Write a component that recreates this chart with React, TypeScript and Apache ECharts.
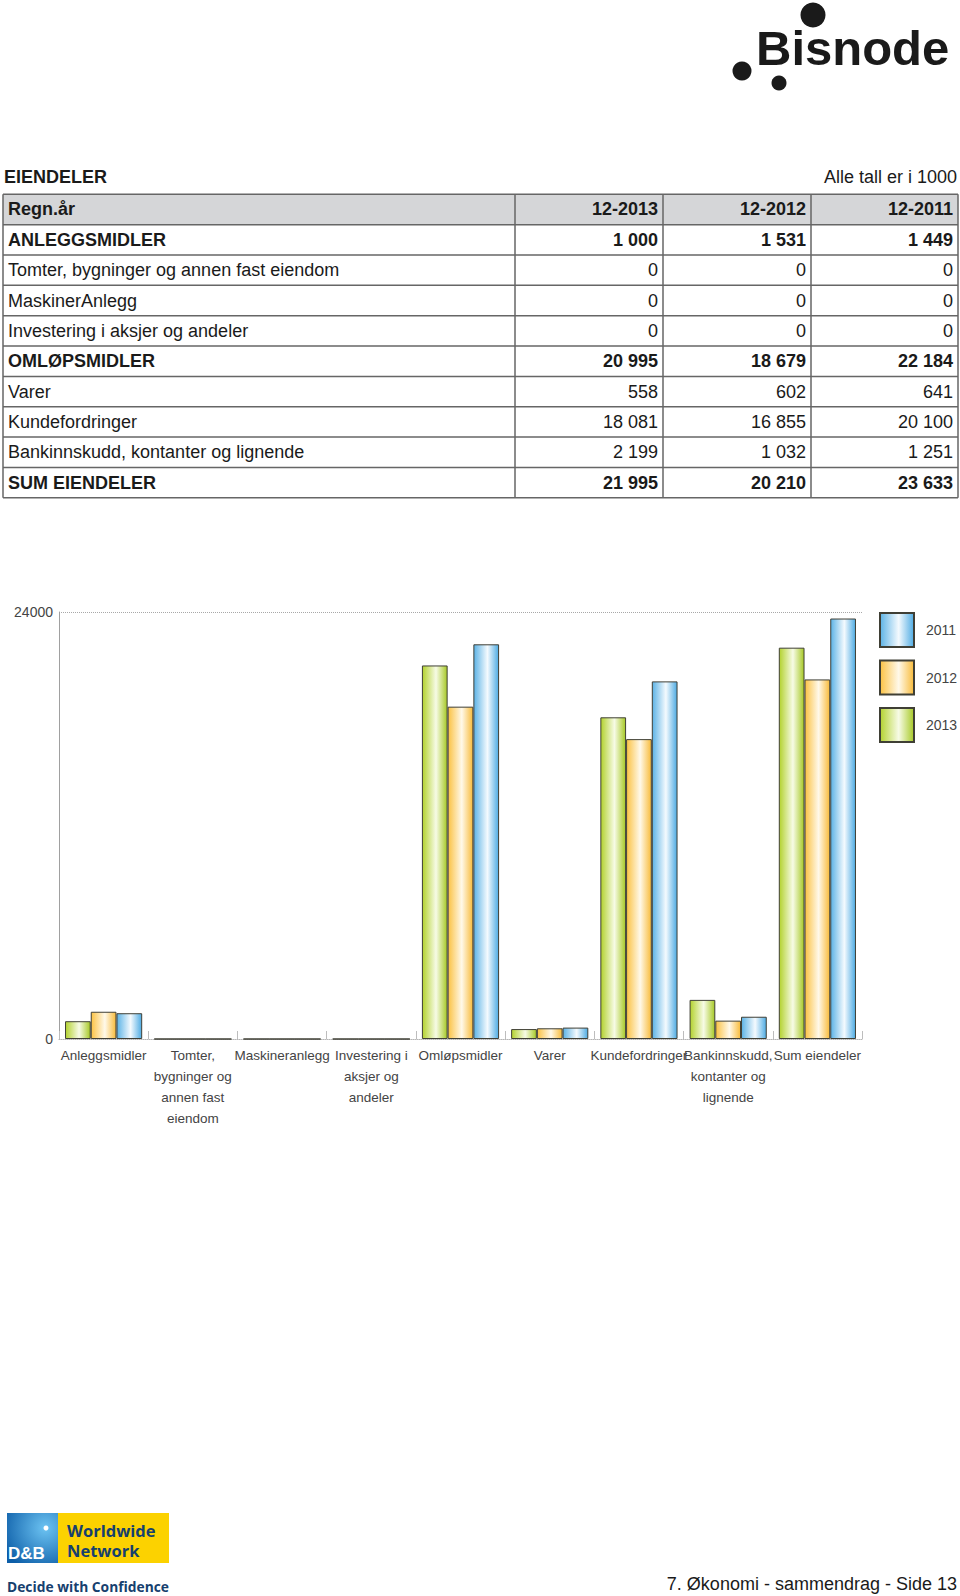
import React, { useEffect, useRef } from 'react';
import * as echarts from 'echarts';

// ---------- data ----------
const categories = [
  'Anleggsmidler',
  'Tomter, bygninger og annen fast eiendom',
  'Maskineranlegg',
  'Investering i aksjer og andeler',
  'Omløpsmidler',
  'Varer',
  'Kundefordringer',
  'Bankinnskudd, kontanter og lignende',
  'Sum eiendeler',
];
const tickLabels = [
  'Anleggsmidler',
  'Tomter,\nbygninger og\nannen fast\neiendom',
  'Maskineranlegg',
  'Investering i\naksjer og\nandeler',
  'Omløpsmidler',
  'Varer',
  'Kundefordringer',
  'Bankinnskudd,\nkontanter og\nlignende',
  'Sum eiendeler',
];
const values2013 = [1000, 0, 0, 0, 20995, 558, 18081, 2199, 21995];
const values2012 = [1531, 0, 0, 0, 18679, 602, 16855, 1032, 20210];
const values2011 = [1449, 0, 0, 0, 22184, 641, 20100, 1251, 23633];
const seriesNames = ['2013', '2012', '2011'];
const legendOrder = ['2011', '2012', '2013'];
const yMax = 24000;

const tableTitle = 'EIENDELER';
const tableNote = 'Alle tall er i 1000';
const tableHeader = ['Regn.år', '12-2013', '12-2012', '12-2011'];
const tableLabels = [
  'ANLEGGSMIDLER',
  'Tomter, bygninger og annen fast eiendom',
  'MaskinerAnlegg',
  'Investering i aksjer og andeler',
  'OMLØPSMIDLER',
  'Varer',
  'Kundefordringer',
  'Bankinnskudd, kontanter og lignende',
  'SUM EIENDELER',
];
const tableBold = [true, false, false, false, true, false, false, false, true];
const footerText = '7. Økonomi - sammendrag - Side 13';

// ---------- helpers ----------
const FONT = "'Liberation Sans', Arial, Helvetica, sans-serif";
const fmt = (n: number) => String(n).replace(/\B(?=(\d{3})+(?!\d))/g, ' ');

const grad = (edgeL: string, mid: string, edgeR: string) => ({
  type: 'linear',
  x: 0,
  y: 0,
  x2: 1,
  y2: 0,
  colorStops: [
    { offset: 0, color: edgeL },
    { offset: 0.55, color: mid },
    { offset: 1, color: edgeR },
  ],
});

const seriesColors: Record<string, any> = {
  '2013': grad('#b3d22e', '#f7fbe6', '#a7c926'),
  '2012': grad('#fbc243', '#fff9ea', '#f8bb3a'),
  '2011': grad('#5cb3e6', '#f4fafe', '#4eabe3'),
};
const seriesData: Record<string, number[]> = {
  '2013': values2013,
  '2012': values2012,
  '2011': values2011,
};

function txt(x: number, y: number, text: string, size: number, opts: any = {}) {
  const weight = opts.bold ? 'bold ' : '';
  return {
    type: 'text',
    x,
    y,
    silent: true,
    style: {
      text,
      font: `${weight}${size}px ${opts.family || FONT}`,
      fill: opts.fill || '#1a1a1a',
      align: opts.align || 'left',
      verticalAlign: opts.vAlign || 'middle',
    },
  };
}

function buildGraphics() {
  const g: any[] = [];
  // Bisnode logo
  g.push({ type: 'circle', shape: { cx: 813, cy: 15, r: 12.5 }, style: { fill: '#1a1a1a' } });
  g.push({ type: 'circle', shape: { cx: 742, cy: 71, r: 9.5 }, style: { fill: '#1a1a1a' } });
  g.push({ type: 'circle', shape: { cx: 779, cy: 83, r: 7.5 }, style: { fill: '#1a1a1a' } });
  g.push(txt(756, 48, 'Bisnode', 49, { bold: true, vAlign: 'middle', fill: '#1a1a1a' }));

  // Table title + note
  g.push(txt(4, 177, tableTitle, 18, { bold: true }));
  g.push(txt(957, 177, tableNote, 18, { align: 'right' }));

  // Table geometry
  const cols = [3, 515, 663, 811, 958];
  const y0 = 194.3;
  const rh = 30.35;
  const nRows = tableLabels.length + 1;
  // header fill
  g.push({ type: 'rect', shape: { x: cols[0], y: y0, width: cols[4] - cols[0], height: rh }, style: { fill: '#d5d6d8' } });
  // horizontal lines
  for (let i = 0; i <= nRows; i++) {
    const y = y0 + i * rh;
    g.push({ type: 'line', shape: { x1: cols[0], y1: y, x2: cols[4], y2: y }, style: { stroke: '#666', lineWidth: 1.5 } });
  }
  // vertical lines
  cols.forEach((x) => {
    g.push({ type: 'line', shape: { x1: x, y1: y0, x2: x, y2: y0 + nRows * rh }, style: { stroke: '#666', lineWidth: 1.5 } });
  });
  // header text
  const hy = y0 + rh / 2;
  g.push(txt(cols[0] + 5, hy, tableHeader[0], 18, { bold: true }));
  for (let c = 1; c < 4; c++) g.push(txt(cols[c + 1] - 5, hy, tableHeader[c], 18, { bold: true, align: 'right' }));
  // rows
  const colVals = [values2013, values2012, values2011];
  tableLabels.forEach((lab, r) => {
    const y = y0 + (r + 1) * rh + rh / 2;
    g.push(txt(cols[0] + 5, y, lab, 18, { bold: tableBold[r] }));
    colVals.forEach((vals, c) => {
      g.push(txt(cols[c + 2] - 5, y, fmt(vals[r]), 18, { bold: tableBold[r], align: 'right' }));
    });
  });

  // D&B logo
  g.push({
    type: 'rect',
    shape: { x: 7, y: 1513, width: 51, height: 50 },
    style: {
      fill: {
        type: 'radial', x: 0.75, y: 0.3, r: 0.9,
        colorStops: [{ offset: 0, color: '#6cc3f2' }, { offset: 1, color: '#0d5ea8' }],
      },
    },
  });
  g.push({ type: 'circle', shape: { cx: 46, cy: 1528, r: 2.5 }, style: { fill: '#ffffff' } });
  g.push({ type: 'rect', shape: { x: 58, y: 1513, width: 111, height: 50 }, style: { fill: '#fcd200' } });
  g.push(txt(8, 1553, 'D&B', 17, { bold: true, fill: '#ffffff' }));
  g.push(txt(67, 1530, 'Worldwide', 16.5, { bold: true, fill: '#16406e', family: "'Open Sans', 'Noto Sans', sans-serif" }));
  g.push(txt(67, 1550, 'Network', 16.5, { bold: true, fill: '#16406e', family: "'Open Sans', 'Noto Sans', sans-serif" }));
  g.push(txt(7, 1586, 'Decide with Confidence', 13.8, { bold: true, fill: '#16406e', family: "'Open Sans', 'Noto Sans', sans-serif" }));

  // footer
  g.push(txt(957, 1584, footerText, 18, { align: 'right' }));
  return g;
}

export default function App() {
  const ref = useRef<HTMLDivElement>(null);
  useEffect(() => {
    document.body.style.margin = '0';
    if (!ref.current) return;
    const chart = echarts.init(ref.current, undefined, { renderer: 'svg' });
    const option: any = {
      animation: false,
      backgroundColor: '#ffffff',
      textStyle: { fontFamily: FONT },
      grid: { left: 59, right: 98, top: 612, bottom: 557, containLabel: false },
      legend: {
        data: legendOrder,
        orient: 'vertical',
        left: 879,
        top: 612,
        padding: 0,
        itemWidth: 34,
        itemHeight: 34,
        itemGap: 11.5,
        icon: 'rect',
        textStyle: { fontSize: 14, color: '#444', padding: [0, 0, 0, 7] },
        selectedMode: false,
      },
      xAxis: {
        type: 'category',
        data: categories,
        axisLine: { show: true, lineStyle: { color: '#b5b5b5', type: 'dotted', width: 1 } },
        axisTick: { show: true, inside: true, length: 8, lineStyle: { color: '#bdbdbd' } },
        axisLabel: {
          interval: 0,
          margin: 6,
          fontSize: 13.5,
          lineHeight: 21,
          color: '#444',
          formatter: (_v: string, i: number) => tickLabels[i],
        },
      },
      yAxis: {
        type: 'value',
        min: 0,
        max: yMax,
        interval: yMax,
        axisLine: { show: true, lineStyle: { color: '#a0a0a0', width: 1 } },
        axisTick: { show: false },
        axisLabel: { fontSize: 14, color: '#444', margin: 6, formatter: (v: number) => String(v) },
        splitLine: { show: true, lineStyle: { color: '#a8a8a8', type: 'dotted', width: 1 } },
      },
      series: seriesNames.map((name) => ({
        type: 'bar',
        name,
        data: seriesData[name],
        barGap: '0%',
        barCategoryGap: '13.5%',
        itemStyle: { color: seriesColors[name], borderColor: '#3f3f35', borderWidth: 1 },
      })),
      graphic: { elements: buildGraphics() },
    };
    chart.setOption(option);
    return () => chart.dispose();
  }, []);
  return <div ref={ref} style={{ width: 960, height: 1596 }} />;
}
